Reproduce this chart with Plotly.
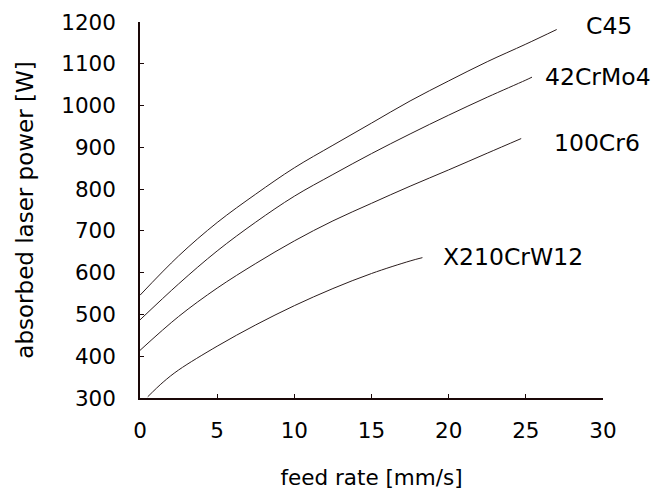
import plotly.graph_objects as go

# Data
c45_x = [0, 2.5, 5, 7.5, 10, 12.5, 15, 17.5, 20, 22.5, 25, 27.0]
c45_y = [546, 640, 720, 788, 851, 905, 958, 1011, 1059, 1105, 1147, 1182]

crmo_x = [0, 2.5, 5, 7.5, 10, 12.5, 15, 17.5, 20, 22.5, 25, 25.4]
crmo_y = [487, 573, 652, 721, 783, 835, 885, 932, 977, 1020, 1061, 1068]

cr6_x = [0, 2.5, 5, 7.5, 10, 12.5, 15, 17.5, 20, 22.5, 24.7]
cr6_y = [414, 495, 563, 622, 676, 724, 766, 807, 846, 886, 921]

x210_x = [0.5, 1.5, 2.5, 5, 7.5, 10, 12.5, 15, 17.5, 18.3]
x210_y = [303, 338, 367, 424, 475, 521, 562, 598, 628, 636]

labels = ["C45", "42CrMo4", "100Cr6", "X210CrW12"]
label_x = [28.8, 26.1, 26.7, 19.5]
label_y = [1190, 1069, 910, 637]

x_ticks = [0, 5, 10, 15, 20, 25, 30]
y_ticks = [300, 400, 500, 600, 700, 800, 900, 1000, 1100, 1200]

FONT = "DejaVu Sans, Liberation Sans, Arial, sans-serif"
LINE = "#2b1d1d"
AXIS = "#1a0808"

fig = go.Figure()
for xs, ys in [(c45_x, c45_y), (crmo_x, crmo_y), (cr6_x, cr6_y), (x210_x, x210_y)]:
    fig.add_trace(go.Scatter(x=xs, y=ys, mode="lines",
                             line=dict(color=LINE, width=1, shape="spline", smoothing=1),
                             showlegend=False, hoverinfo="skip"))

for t, lx, ly in zip(labels, label_x, label_y):
    fig.add_annotation(x=lx, y=ly, text=t, showarrow=False, xanchor="left", yanchor="middle",
                       font=dict(family=FONT, size=23.5, color="#000000"))

fig.update_xaxes(range=[0, 30], tickvals=x_ticks, ticktext=[str(v) for v in x_ticks],
                 ticks="inside", ticklen=4, tickwidth=1, tickcolor=AXIS,
                 showline=True, linecolor=AXIS, linewidth=1.5, showgrid=False, zeroline=False,
                 tickfont=dict(family=FONT, size=21.5, color="#000000"), ticklabelstandoff=12,
                 title=dict(text="feed rate [mm/s]", font=dict(family=FONT, size=21.5, color="#000000"), standoff=30),
                 automargin=False)
fig.update_yaxes(range=[300, 1200], tickvals=y_ticks, ticktext=[str(v) for v in y_ticks],
                 ticks="inside", ticklen=4, tickwidth=1, tickcolor=AXIS,
                 showline=True, linecolor=AXIS, linewidth=1.5, showgrid=False, zeroline=False,
                 tickfont=dict(family=FONT, size=21.5, color="#000000"), ticklabelstandoff=18,
                 title=dict(text="absorbed laser power [W]", font=dict(family=FONT, size=23, color="#000000"), standoff=21),
                 automargin=False)

fig.update_layout(width=661, height=490, margin=dict(l=140, r=58, t=22, b=92),
                  paper_bgcolor="white", plot_bgcolor="white")

fig.write_html("out.html")
